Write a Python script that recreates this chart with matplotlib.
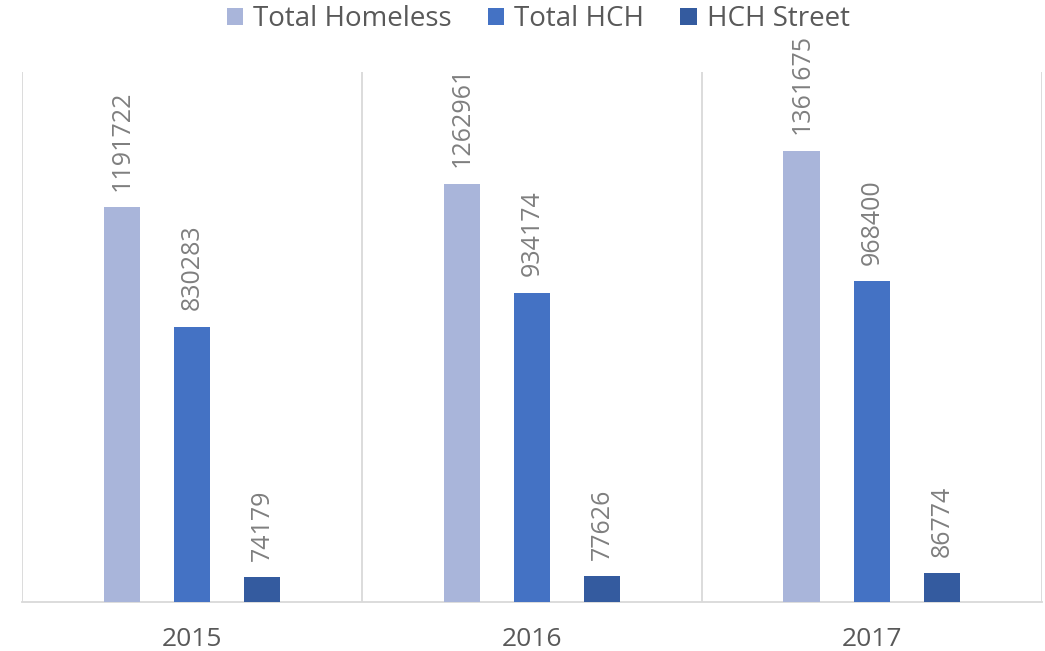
import numpy as np
import matplotlib
matplotlib.use('Agg')
import matplotlib.pyplot as plt

plt.rcParams['font.family'] = ['Open Sans', 'DejaVu Sans']

years = ['2015', '2016', '2017']
series_names = ['Total Homeless', 'Total HCH', 'HCH Street']
total_homeless = [1191722, 1262961, 1361675]
total_hch = [830283, 934174, 968400]
hch_street = [74179, 77626, 86774]
colors = ['#A9B5DA', '#4472C4', '#345B9F']

fig = plt.figure(figsize=(10.45, 6.51), dpi=100)
ax = fig.add_axes([0.021, 0.0753, 0.976, 0.8137])

x = np.arange(len(years))
width = 0.108
step = 0.206
for i, (vals, name, c) in enumerate(zip([total_homeless, total_hch, hch_street], series_names, colors)):
    bars = ax.bar(x + (i - 1) * step, vals, width, color=c, label=name, zorder=3)
    for b, v in zip(bars, vals):
        ax.annotate(str(v), (b.get_x() + b.get_width() / 2, v), xytext=(0, 12),
                    textcoords='offset points', rotation=90, ha='center', va='bottom',
                    fontsize=18, color='#7F7F7F')

ax.set_xlim(-0.5, len(years) - 0.5)
ax.set_ylim(0, 1.6e6)
ax.set_yticks([])
ax.set_xticks(x)
ax.set_xticklabels(years, fontsize=19, color='#595959')
ax.tick_params(axis='x', length=0, pad=18)
# category separators
for sep in np.arange(len(years) + 1) - 0.5:
    ax.axvline(sep, color='#D9D9D9', lw=1.3, zorder=1)
for s in ['top', 'left', 'right']:
    ax.spines[s].set_visible(False)
ax.spines['bottom'].set_color('#D9D9D9')
ax.spines['bottom'].set_linewidth(1.3)

fig.legend(loc='upper center', bbox_to_anchor=(0.515, 1.03), ncol=3, frameon=False,
           fontsize=20, labelcolor='#595959', handlelength=0.6, handleheight=0.6,
           handletextpad=0.35, columnspacing=1.3)

fig.savefig('out.png', dpi=100)
